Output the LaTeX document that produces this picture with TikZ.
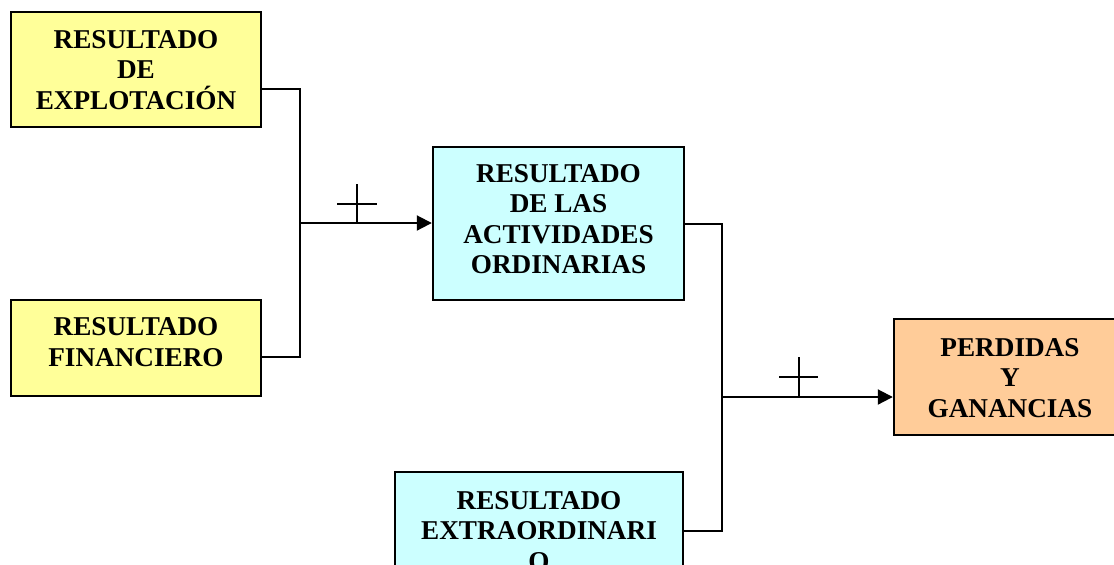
\documentclass[tikz,border=0pt]{standalone}
\usepackage{fontspec}
\setmainfont{Liberation Serif}
\usetikzlibrary{arrows.meta}
\definecolor{boxyellow}{HTML}{FFFF99}
\definecolor{boxcyan}{HTML}{CCFFFF}
\definecolor{boxorange}{HTML}{FFCC99}
\tikzset{
  box/.style={draw=black, line width=1.2pt, rectangle, inner sep=0pt},
  lbl/.style={align=center, inner sep=0pt, font=\fontsize{13.6}{15.2}\selectfont\bfseries},
  conn/.style={line width=1pt},
  arr/.style={conn, -{Triangle[length=7.5pt,width=7.5pt]}},
  plus/.style={line width=1pt}
}
\begin{document}
\begin{tikzpicture}[x=0.5pt,y=-0.5pt]
\useasboundingbox (0,0) rectangle (1114,564);
\clip (0,0) rectangle (1114,564);
\fill[white] (0,0) rectangle (1114,564);
% boxes
\node[box, fill=boxyellow, minimum width=125pt, minimum height=57.5pt] (A) at (136,69.5) {};
\node[box, fill=boxyellow, minimum width=125pt, minimum height=48pt] (B) at (136,348) {};
\node[box, fill=boxcyan, minimum width=125.5pt, minimum height=76.5pt] (C) at (558.5,223.5) {};
\node[box, fill=boxcyan, minimum width=144pt, minimum height=59pt] (D) at (539,531) {};
\node[box, fill=boxorange, minimum width=116pt, minimum height=58pt] (E) at (1010,377) {};
% labels
\node[lbl] (tA) at (136,70) {RESULTADO\\DE\\EXPLOTACIÓN};
\node[lbl] (tB) at (136,342) {RESULTADO\\FINANCIERO};
\node[lbl] (tC) at (558.5,219) {RESULTADO\\DE LAS\\ACTIVIDADES\\ORDINARIAS};
\node[lbl] (tD) at (539,531) {RESULTADO\\EXTRAORDINARI\\O};
\node[lbl] (tE) at (1010,378) {PERDIDAS\\Y\\GANANCIAS};
% junctions
\coordinate (j1) at (300,223);
\coordinate (j2) at (722,397);
% connectors
\draw[conn] ([yshift=-9.75pt]A.east) -| (j1);
\draw[conn] ([yshift=-4.5pt]B.east) -| (j1);
\draw[arr] (j1) -- (j1 -| C.west);
\draw[conn] (C.east) -| (j2);
\draw[conn] (D.east) -| (j2);
\draw[arr] (j2) -- (j2 -| E.west);
% plus signs
\draw[plus] (357,184) -- (357,223) (337,204) -- (377,204);
\draw[plus] (799,357) -- (799,397) (779,377) -- (818,377);
\end{tikzpicture}
\end{document}
